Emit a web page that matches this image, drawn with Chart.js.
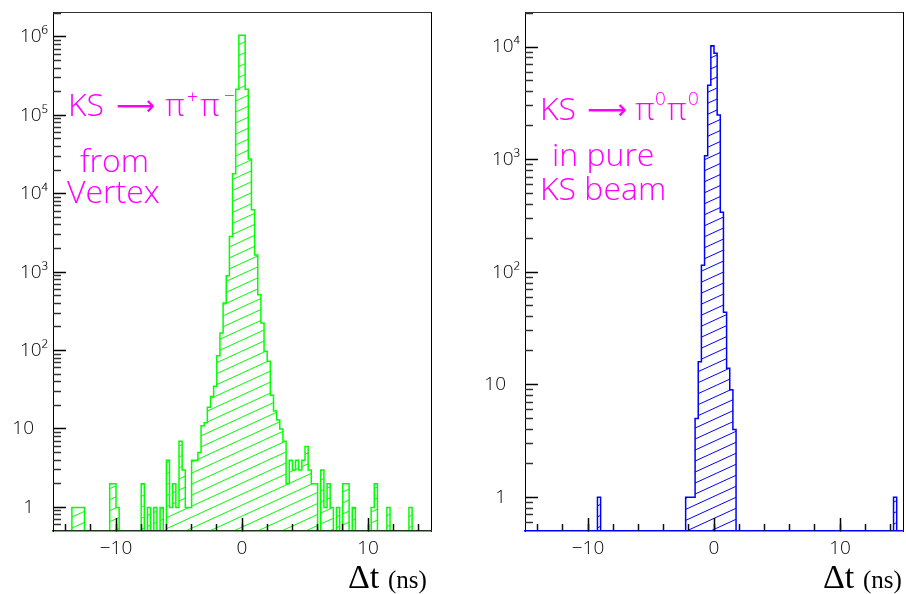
<!DOCTYPE html>
<html>
<head>
<meta charset="utf-8">
<script src="https://cdn.jsdelivr.net/npm/chart.js@4.4.1/dist/chart.umd.min.js"></script>
<style>
  html, body { margin: 0; padding: 0; background: #fff; overflow: hidden; }
  .panel { position: absolute; top: 0; width: 453px; height: 594px; }
  #left-panel { left: 0; }
  #right-panel { left: 453px; }
</style>
</head>
<body>
<div class="panel" id="left-panel"><canvas id="leftChart"></canvas></div>
<div class="panel" id="right-panel"><canvas id="rightChart"></canvas></div>
<script>
// 120 bins of 0.25 ns, from -15 to 15 ns
const binStart = -15;
const binWidth = 0.25;

// KS -> pi+ pi- from vertex (counts per bin, left panel)
const pipiCounts = [
  0, 0, 0, 0, 0, 0, 1, 1, 1, 1, 0, 0, 0, 0, 0, 0, 0, 0, 2, 2,
  1, 0, 0, 0, 0, 0, 0, 0, 2, 0, 1, 0, 1, 0, 1, 0, 4, 1, 2, 1,
  7, 3, 1, 1, 4, 4, 5, 11, 12, 19, 26, 35, 86, 168, 405, 900, 2860, 18000, 215000, 1050000,
  1050000, 215000, 27700, 6250, 1660, 517, 225, 98, 73, 27, 17, 13, 10, 7, 2, 4, 3, 4, 3, 4,
  6, 3, 2, 2, 0, 3, 1, 2, 1, 0, 1, 0, 2, 2, 0, 1, 0, 0, 0, 0,
  0, 1, 2, 0, 0, 0, 1, 0, 0, 0, 0, 0, 0, 1, 0, 0, 0, 0, 0, 0
];

// KS -> pi0 pi0 in pure KS beam (counts per bin, right panel)
const pi0pi0Counts = [
  0, 0, 0, 0, 0, 0, 0, 0, 0, 0, 0, 0, 0, 0, 0, 0, 0, 0, 0, 0,
  0, 0, 0, 1, 0, 0, 0, 0, 0, 0, 0, 0, 0, 0, 0, 0, 0, 0, 0, 0,
  0, 0, 0, 0, 0, 0, 0, 0, 0, 0, 0, 1, 1, 1, 5, 16, 115, 1080, 4590, 10300,
  8800, 2490, 340, 44, 14, 9, 4, 0, 0, 0, 0, 0, 0, 0, 0, 0, 0, 0, 0, 0,
  0, 0, 0, 0, 0, 0, 0, 0, 0, 0, 0, 0, 0, 0, 0, 0, 0, 0, 0, 0,
  0, 0, 0, 0, 0, 0, 0, 0, 0, 0, 0, 0, 0, 0, 0, 0, 0, 1, 0, 0
];

// axis ticks and labels
const xTickValues = [-10, 0, 10];
const xTickLabels = ['\u221210', '0', '10'];
const xMinorTicks = [-14, -12, -10, -8, -6, -4, -2, 0, 2, 4, 6, 8, 10, 12, 14];

const leftYRange = [0.5, 2.08e6];
const leftYTicks = [1, 10, 100, 1e3, 1e4, 1e5, 1e6];
const leftYLabels = ['1', '10', '10²', '10³', '10⁴', '10⁵', '10⁶'];

const rightYRange = [0.5, 2.05e4];
const rightYTicks = [1, 10, 100, 1e3, 1e4];
const rightYLabels = ['1', '10', '10²', '10³', '10⁴'];

const yMinorMultipliers = [2, 3, 4, 5, 6, 7, 8, 9];

Chart.defaults.font.family = '"Open Sans", "DejaVu Sans", sans-serif';
Chart.defaults.color = '#000';

// diagonal hatch like the PAW fill style
function makeHatch(color) {
  const w = 24, h = 11;
  const c = document.createElement('canvas');
  c.width = w; c.height = h;
  const g = c.getContext('2d');
  g.strokeStyle = color;
  g.lineWidth = 1;
  g.beginPath();
  [[0, 0], [-w, 0], [w, 0], [0, -h], [0, h]].forEach(([dx, dy]) => {
    g.moveTo(dx, h + dy);
    g.lineTo(w + dx, dy);
  });
  g.stroke();
  return g.createPattern(c, 'repeat');
}

// step outline: two points per bin, empty bins sit on the axis floor
function histPoints(counts, floor) {
  const pts = [];
  counts.forEach((c, i) => {
    const lo = binStart + i * binWidth;
    const v = c > 0 ? c : floor;
    pts.push({ x: lo, y: v }, { x: lo + binWidth, y: v });
  });
  return pts;
}

function minorLogTicks(min, max) {
  const out = [];
  for (let d = -1; d <= 7; d++) {
    yMinorMultipliers.forEach(m => {
      const v = m * Math.pow(10, d);
      if (v > min && v < max) out.push(v);
    });
  }
  return out;
}

function noPad(s) {
  s.paddingTop = 0; s.paddingBottom = 0; s.paddingLeft = 0; s.paddingRight = 0;
}

// free text: reaction labels and the axis title
const panelText = {
  id: 'panelText',
  afterDraw(chart, args, opts) {
    const ctx = chart.ctx;
    ctx.save();
    ctx.textAlign = 'left';
    ctx.textBaseline = 'alphabetic';
    (opts.items || []).forEach(it => {
      ctx.font = it.font;
      ctx.fillStyle = it.color;
      if (it.width) {
        const w = ctx.measureText(it.text).width;
        ctx.save();
        ctx.translate(it.x, it.y);
        ctx.scale(it.width / w, 1);
        ctx.fillText(it.text, 0, 0);
        ctx.restore();
      } else {
        ctx.fillText(it.text, it.x, it.y);
      }
    });
    ctx.restore();
  }
};

function buildChart(canvasId, counts, color, yRange, yTicks, yLabels, yAxisWidth, padRight, bottomColor, items) {
  const [yMin, yMax] = yRange;
  const ctx = document.getElementById(canvasId).getContext('2d');
  return new Chart(ctx, {
    type: 'line',
    data: {
      datasets: [{
        data: histPoints(counts, yMin),
        borderColor: color,
        borderWidth: 1.5,
        backgroundColor: makeHatch(color),
        fill: 'start',
        pointRadius: 0,
        tension: 0
      }]
    },
    options: {
      responsive: true,
      maintainAspectRatio: false,
      animation: false,
      events: [],
      layout: { autoPadding: false, padding: { left: 0, right: padRight, top: 12, bottom: 0 } },
      plugins: {
        legend: { display: false },
        tooltip: { enabled: false },
        panelText: { items: items }
      },
      scales: {
        // ticks and borders go above the hatched fill (z: 1), ticks point inwards
        x: {
          type: 'linear', position: 'bottom', min: -15, max: 15,
          afterBuildTicks: s => { s.ticks = xTickValues.map(v => ({ value: v })); },
          afterFit: s => { s.height = 63; noPad(s); },
          ticks: {
            autoSkip: false, maxRotation: 0, padding: 19,
            font: { size: 19, weight: 300 },
            callback: v => xTickLabels[xTickValues.indexOf(v)]
          },
          grid: { z: 1, drawOnChartArea: false, tickLength: -13, tickColor: '#000', tickWidth: 1.5 },
          border: { z: 1, color: bottomColor, width: 1.5 }
        },
        xMinor: {
          type: 'linear', axis: 'x', position: { y: yMin }, min: -15, max: 15,
          afterBuildTicks: s => { s.ticks = xMinorTicks.map(v => ({ value: v })); },
          afterFit: s => { s.height = 0; noPad(s); },
          ticks: { display: false },
          grid: { z: 1, drawOnChartArea: false, tickLength: -7, tickColor: '#111', tickWidth: 1.5 },
          border: { display: false }
        },
        xTop: {
          type: 'linear', axis: 'x', position: 'top', min: -15, max: 15,
          afterFit: s => { s.height = 0; noPad(s); },
          ticks: { display: false },
          grid: { display: false, drawTicks: false },
          border: { color: '#333', width: 1 }
        },
        y: {
          type: 'logarithmic', position: 'left', min: yMin, max: yMax,
          afterBuildTicks: s => { s.ticks = yTicks.map(v => ({ value: v })); },
          afterFit: s => { s.width = yAxisWidth; noPad(s); },
          ticks: {
            autoSkip: false, padding: 18,
            font: { size: 19, weight: 300 },
            callback: v => {
              const lab = yLabels[yTicks.indexOf(v)];
              return lab.length < 3 ? lab + '\u2007\u2009' : lab;
            }
          },
          grid: { z: 1, drawOnChartArea: false, tickLength: -13, tickColor: '#000', tickWidth: 1.5 },
          border: { z: 1, color: '#000', width: 1 }
        },
        yMinor: {
          type: 'logarithmic', axis: 'y', position: { x: -15 }, min: yMin, max: yMax,
          afterBuildTicks: s => { s.ticks = minorLogTicks(yMin, yMax).map(v => ({ value: v })); },
          afterFit: s => { s.width = 0; noPad(s); },
          ticks: { display: false },
          grid: { z: 1, drawOnChartArea: false, tickLength: -8, tickColor: '#333', tickWidth: 1.5 },
          border: { display: false }
        },
        yRight: {
          type: 'logarithmic', axis: 'y', position: 'right', min: yMin, max: yMax,
          afterFit: s => { s.width = 0; noPad(s); },
          ticks: { display: false },
          grid: { display: false, drawTicks: false },
          border: { color: '#000', width: 1 }
        }
      }
    },
    plugins: [panelText]
  });
}

const magenta = '#ff00ff';
const labFont = '300 32px "Open Sans", "DejaVu Sans", sans-serif';
const supFont = '300 19px "Open Sans", "DejaVu Sans", sans-serif';
const arrowFont = '28px "DejaVu Sans", sans-serif';
const serifBig = '34px "Liberation Serif", "DejaVu Serif", serif';
const serifSmall = '25px "Liberation Serif", "DejaVu Serif", serif';

buildChart('leftChart', pipiCounts, '#00ff00', leftYRange, leftYTicks, leftYLabels, 53, 22, '#1a3a1a', [
  { text: 'KS', x: 68, y: 116, font: labFont, color: magenta },
  { text: '\u27F6', x: 116, y: 115, font: arrowFont, color: magenta, width: 39 },
  { text: 'π', x: 165, y: 116, font: labFont, color: magenta },
  { text: '+', x: 187, y: 103, font: supFont, color: magenta },
  { text: 'π', x: 200, y: 116, font: labFont, color: magenta },
  { text: '\u2212', x: 224, y: 102, font: supFont, color: magenta },
  { text: 'from', x: 80, y: 172, font: labFont, color: magenta },
  { text: 'Vertex', x: 67, y: 203, font: labFont, color: magenta },
  { text: 'Δt', x: 348, y: 588, font: serifBig, color: '#000' },
  { text: '(ns)', x: 388, y: 588, font: serifSmall, color: '#000' }
]);

buildChart('rightChart', pi0pi0Counts, '#0000ff', rightYRange, rightYTicks, rightYLabels, 72, 3, '#0000ff', [
  { text: 'KS', x: 87, y: 120, font: labFont, color: magenta },
  { text: '\u27F6', x: 134, y: 119, font: arrowFont, color: magenta, width: 40 },
  { text: 'π', x: 182, y: 120, font: labFont, color: magenta },
  { text: '0', x: 202, y: 105, font: supFont, color: magenta },
  { text: 'π', x: 214, y: 120, font: labFont, color: magenta },
  { text: '0', x: 235, y: 105, font: supFont, color: magenta },
  { text: 'in pure', x: 99, y: 166, font: labFont, color: magenta },
  { text: 'KS beam', x: 87, y: 200, font: labFont, color: magenta },
  { text: 'Δt', x: 370, y: 588, font: serifBig, color: '#000' },
  { text: '(ns)', x: 410, y: 588, font: serifSmall, color: '#000' }
]);
</script>
</body>
</html>
